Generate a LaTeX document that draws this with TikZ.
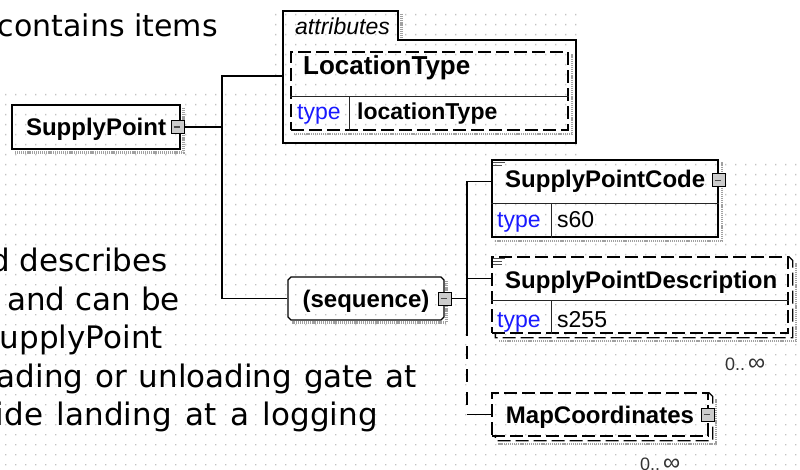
\documentclass[tikz,border=0pt]{standalone}
\usepackage{fontspec}
\usepackage{tikz}
\usetikzlibrary{positioning,shapes.misc}
\newfontfamily\xsdfont{Liberation Sans}
\newfontfamily\docfont{DejaVu Sans}
\definecolor{typeblue}{RGB}{25,25,255}
\definecolor{griddot}{RGB}{195,195,195}
\definecolor{shadowgray}{RGB}{160,160,160}

\begin{document}
\begin{tikzpicture}[x=1pt, y=-1pt,
	elbox/.style={draw, line width=1.3, inner sep=0},
	optbox/.style={elbox, dash pattern=on 13 off 5},
	seqbox/.style={elbox, chamfered rectangle, chamfered rectangle xsep=1.5, chamfered rectangle ysep=1.5},
	elname/.style={font=\xsdfont\bfseries\fontsize{24}{28}\selectfont, text height=17, text depth=0},
	inname/.style={anchor=base west, inner sep=0, font=\xsdfont\bfseries\fontsize{24}{28}\selectfont},
	typelbl/.style={anchor=base west, inner sep=0, text=typeblue, font=\xsdfont\fontsize{23}{27}\selectfont},
	typeval/.style={anchor=base west, inner sep=0, font=\xsdfont\fontsize{23}{27}\selectfont},
	occur/.style={anchor=base west, inner sep=0, text=black!80, font=\xsdfont\fontsize{18}{20}\selectfont},
	divider/.style={line width=1.1, draw=black!85},
	drop/.style={draw=shadowgray, line width=2.6, dash pattern=on 1.2 off 0.9},
	docmark/.style={line width=1.1, draw=black!70},
	btn/.style={draw, line width=0.9, fill=gray!40, minimum size=13, inner sep=0,
		path picture={\draw[line width=1.2, black!70] ([xshift=-4]path picture bounding box.center) -- ([xshift=2]path picture bounding box.center);}},
	link/.style={line width=1.5},
	doctext/.style={anchor=base east, inner sep=0, font=\docfont\fontsize{31}{38}\selectfont}]
	\useasboundingbox (0,0) rectangle (800,470);
	\clip (0,0) rectangle (800,470);
	\fill[white] (0,0) rectangle (800,470);

	% dotted grid of the schema view
	\fill[griddot] \foreach \gx in {275,285,...,575} {\foreach \gy in {14,24,...,84} {(\gx,\gy) rectangle ++(1.3,1.3)}};
	\fill[griddot] \foreach \gx in {5,15,...,575} {\foreach \gy in {94,104,...,154} {(\gx,\gy) rectangle ++(1.3,1.3)}};
	\fill[griddot] \foreach \gx in {5,15,...,795} {\foreach \gy in {164,174,...,464} {(\gx,\gy) rectangle ++(1.3,1.3)}};

	% text of the page
	\node[doctext, font=\docfont\fontsize{30}{38}\selectfont] (t1) at (218,37) {contains items};
	\node[doctext] (t2) at (168,272) {d describes};
	\node[doctext] (t3) at (180,310) {and can be};
	\node[doctext] (t4) at (163,348) {upplyPoint};
	\node[doctext] (t5) at (417,387) {\makebox[420pt][s]{ading or unloading gate at}};
	\node[doctext] (t6) at (378,425) {\makebox[382pt][s]{ide landing at a logging}};

	% root element
	\draw[drop] (183.5,108) |- (15,152.5);
	\node[elbox, elname, minimum width=168, minimum height=44] (supply) at (96,127) {SupplyPoint};
	\node[btn] (spbtn) at ([xshift=-3]supply.east) {};

	% attributes
	\draw[drop] (401.5,14) -- (401.5,40);
	\draw[elbox] (283,143) -- (283,11) -- (398,11) -- (398,40) -- (576,40) -- (576,143) -- cycle;
	\node[anchor=base west, inner sep=0, font=\xsdfont\itshape\fontsize{23}{27}\selectfont] (attrlbl) at (295,35) {attributes};
	\coordinate (attrin) at (283,76);
	\node[optbox, minimum width=277, minimum height=78] (loc) at (429.5,91) {};
	\draw[drop] ([xshift=3.5,yshift=-3]loc.north east) |- ([xshift=3,yshift=-3.5]loc.south west);
	\draw[divider] ([yshift=-45]loc.north west) -- ([yshift=-45]loc.north east);
	\draw[divider] ([xshift=59,yshift=-45]loc.north west) -- ([xshift=59]loc.south west);
	\node[inname, font=\xsdfont\bfseries\fontsize{26}{30}\selectfont] (locname) at (303,75) {LocationType};
	\node[typelbl] (loctype) at (297,120) {type};
	\node[typeval, font=\xsdfont\bfseries\fontsize{23}{27}\selectfont] (locval) at (357,120) {locationType};

	% sequence
	\node[seqbox, elname, minimum width=156, minimum height=43] (seq) at (366,298.5) {(sequence)};
	\draw[drop] ([xshift=3.5,yshift=-3]seq.north east) |- ([xshift=3,yshift=-3.5]seq.south west);
	\node[btn] (seqbtn) at (seq.east) {};

	% SupplyPointCode
	\node[elbox, minimum width=226, minimum height=77] (codebox) at (605,198.5) {};
	\draw[drop] ([xshift=3.5,yshift=-3]codebox.north east) |- ([xshift=3,yshift=-3.5]codebox.south west);
	\draw[divider] ([yshift=-44]codebox.north west) -- ([yshift=-44]codebox.north east);
	\draw[divider] ([xshift=60,yshift=-44]codebox.north west) -- ([xshift=60]codebox.south west);
	\draw[docmark] ([xshift=2,yshift=-3]codebox.north west) -- ++(12,0) ([xshift=2,yshift=-6]codebox.north west) -- ++(9,0);
	\node[inname] (code) at (505,188) {SupplyPointCode};
	\node[typelbl] (codetype) at (497,228) {type};
	\node[typeval] (codeval) at (557,228) {s60};
	\node[btn] (codebtn) at ([yshift=-21]codebox.north east) {};
	\coordinate (codein) at ([yshift=-22]codebox.north west);

	% SupplyPointDescription, optional and repeated
	\node[optbox, minimum width=296, minimum height=76] (descbox) at (640,295) {};
	\draw[drop] ([xshift=7.5,yshift=-7]descbox.north east) |- ([xshift=7,yshift=-7.5]descbox.south west);
	\draw[optbox] (descbox.north east) -- ([xshift=4,yshift=-4]descbox.north east) -- ([xshift=4,yshift=-4]descbox.south east)
		-- ([xshift=4,yshift=-4]descbox.south west) -- ([xshift=4]descbox.south west);
	\draw[divider] ([yshift=-44]descbox.north west) -- ([yshift=-44]descbox.north east);
	\draw[divider] ([xshift=60,yshift=-44]descbox.north west) -- ([xshift=60]descbox.south west);
	\draw[docmark] ([xshift=2,yshift=-2]descbox.north west) -- ++(12,0) ([xshift=2,yshift=-5]descbox.north west) -- ++(9,0)
		([xshift=2,yshift=-8]descbox.north west) -- ++(9,0);
	\node[inname] (desc) at (505,288) {SupplyPointDescription};
	\node[typelbl] (desctype) at (497,327) {type};
	\node[typeval] (descval) at (557,327) {s255};
	\node[occur] (descocc) at (725,370) {0..\,{\fontsize{24}{24}\selectfont ∞}};
	\coordinate (descin) at ([yshift=-22]descbox.north west);

	% MapCoordinates, optional and repeated
	\node[optbox, elname, minimum width=216, minimum height=43] (mapbox) at (600,414.5) {MapCoordinates};
	\draw[drop] ([xshift=7.5,yshift=-7]mapbox.north east) |- ([xshift=7,yshift=-7.5]mapbox.south west);
	\draw[optbox] (mapbox.north east) -- ([xshift=4,yshift=-4]mapbox.north east) -- ([xshift=4,yshift=-4]mapbox.south east)
		-- ([xshift=4,yshift=-4]mapbox.south west) -- ([xshift=4]mapbox.south west);
	\node[btn] (mapbtn) at ([xshift=-1]mapbox.east) {};
	\node[occur] (mapocc) at (640,470) {0..\,{\fontsize{24}{24}\selectfont ∞}};

	% connectors
	\coordinate (fork) at (222,127);
	\draw[link] (spbtn.east) -- (fork);
	\draw[link] (attrin) -| (fork) |- (seq.west);
	\coordinate (split) at (467,323);
	\draw[link] (seqbtn.east) -- (seqbtn.east -| split);
	\draw[link] (codein) -| (split);
	\draw[link] (descin) -- (descin -| split);
	\draw[link, dash pattern=on 13 off 10] (split) -- (split |- mapbox.west);
	\draw[link] (split |- mapbox.west) -- (mapbox.west);
\end{tikzpicture}
\end{document}
